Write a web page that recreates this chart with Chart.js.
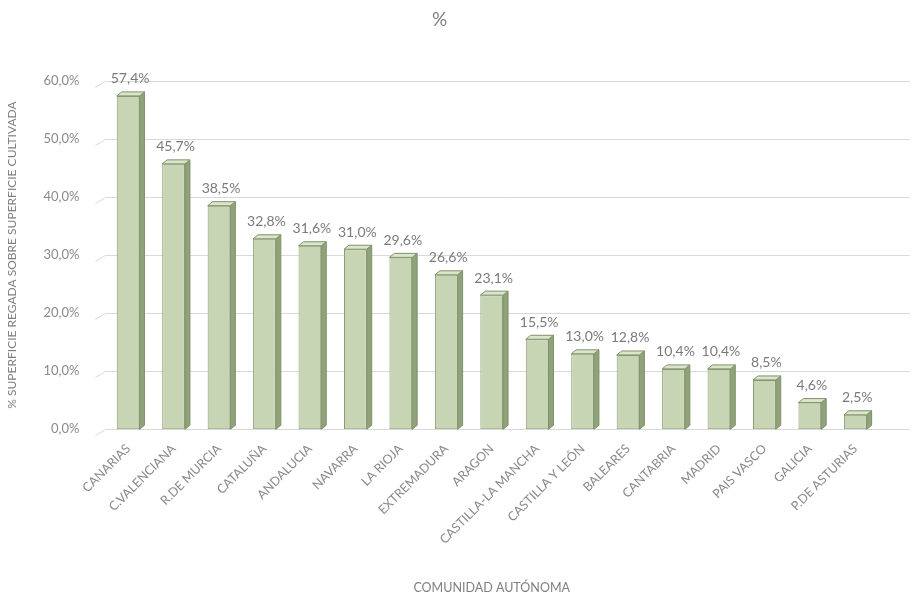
<!DOCTYPE html>
<html><head><meta charset="utf-8">
<script src="https://cdn.jsdelivr.net/npm/chart.js@4.4.0/dist/chart.umd.min.js"></script>
<style>html,body{margin:0;padding:0;background:#fff}#wrap{width:914px;height:603px}</style>
</head><body><div id="wrap"><canvas id="c"></canvas></div>
<script>
const categories = ["CANARIAS","C.VALENCIANA","R.DE MURCIA","CATALUÑA","ANDALUCIA","NAVARRA","LA RIOJA","EXTREMADURA","ARAGON","CASTILLA-LA MANCHA","CASTILLA Y LEÓN","BALEARES","CANTABRIA","MADRID","PAIS VASCO","GALICIA","P.DE ASTURIAS"];
const values = [57.4,45.7,38.5,32.8,31.6,31.0,29.6,26.6,23.1,15.5,13.0,12.8,10.4,10.4,8.5,4.6,2.5];
const yTicks = [0,10,20,30,40,50,60];
const chartTitle = "%";
const yTitle = "% SUPERFICIE REGADA SOBRE SUPERFICIE CULTIVADA";
const xTitle = "COMUNIDAD AUTÓNOMA";

const fmt = v => v.toFixed(1).replace('.', ',') + '%';
const FONT = "Lato, 'Open Sans', sans-serif";

const bar3d = {
  id: 'bar3d',
  afterDatasetsDraw(chart) {
    const ctx = chart.ctx;
    const meta = chart.getDatasetMeta(0);
    const d = 5, u = 4;
    ctx.save();
    meta.data.forEach((el, i) => {
      const p = el.getProps(['x','y','base','width'], true);
      const l = p.x - p.width/2, r = p.x + p.width/2, t = p.y, b = p.base;
      ctx.beginPath();
      ctx.moveTo(r, b); ctx.lineTo(r + d, b - u); ctx.lineTo(r + d, t - u); ctx.lineTo(r, t); ctx.closePath();
      ctx.fillStyle = '#8fa27a'; ctx.fill();
      ctx.strokeStyle = '#7f9169'; ctx.lineWidth = 1; ctx.stroke();
      ctx.beginPath();
      ctx.moveTo(l, t); ctx.lineTo(l + d, t - u); ctx.lineTo(r + d, t - u); ctx.lineTo(r, t); ctx.closePath();
      ctx.fillStyle = '#dbe5cc'; ctx.fill(); ctx.stroke();
      ctx.fillStyle = '#7a7a7a';
      ctx.font = "14px " + FONT;
      ctx.textAlign = 'center'; ctx.textBaseline = 'bottom';
      ctx.fillText(fmt(values[i]), p.x + 2, t - 10);
    });
    ctx.restore();
  }
};

const gridExt = {
  id: 'gridExt',
  beforeDatasetsDraw(chart) {
    const ctx = chart.ctx, ys = chart.scales.y, ca = chart.chartArea;
    ctx.save();
    ctx.strokeStyle = '#d9d9d9'; ctx.lineWidth = 1;
    yTicks.forEach(v => {
      const y = Math.round(ys.getPixelForValue(v)) + 0.5;
      ctx.beginPath();
      ctx.moveTo(ca.left - 10, y + 6); ctx.lineTo(ca.left, y);
      ctx.lineTo(chart.width - 4, y); ctx.stroke();
    });
    ctx.restore();
  }
};

new Chart(document.getElementById('c'), {
  type: 'bar',
  data: { labels: categories, datasets: [{ data: values, backgroundColor: '#c8d5b4', borderColor: '#8a9c73', borderWidth: 1, borderSkipped: false, barPercentage: 0.5, categoryPercentage: 1 }] },
  plugins: [gridExt, bar3d],
  options: {
    responsive: true, maintainAspectRatio: false, animation: false,
    layout: { padding: { top: 8, right: 36, left: 1, bottom: 4 } },
    plugins: {
      legend: { display: false }, tooltip: { enabled: false },
      title: { display: true, text: chartTitle, color: '#7f7f7f', font: { family: FONT, size: 19, weight: 'normal' }, padding: { top: 0, bottom: 50 } }
    },
    scales: {
      x: {
        grid: { display: false }, border: { display: false },
        ticks: { color: '#8a8a8a', font: { family: FONT, size: 12.5 }, maxRotation: 45, minRotation: 45, autoSkip: false, padding: 4 },
        title: { display: true, text: xTitle, color: '#7f7f7f', font: { family: FONT, size: 12.5 }, padding: { top: 29 } }
      },
      y: {
        min: 0, max: 60,
        afterBuildTicks: s => { s.ticks = yTicks.map(v => ({ value: v })); },
        grid: { display: false }, border: { display: false },
        ticks: { color: '#8a8a8a', font: { family: FONT, size: 13 }, callback: v => fmt(v), padding: 18 },
        title: { display: true, text: yTitle, color: '#7f7f7f', font: { family: FONT, size: 12 }, padding: { bottom: 6 } }
      }
    }
  }
});
</script></body></html>
